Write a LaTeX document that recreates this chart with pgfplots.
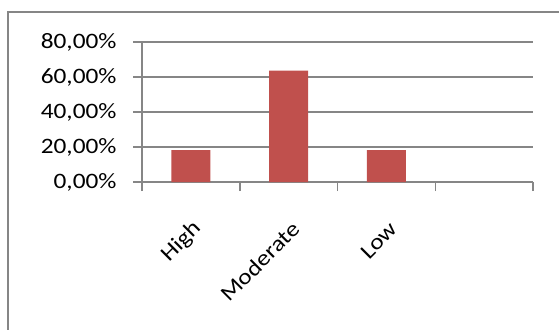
\documentclass[border=0pt]{standalone}
\usepackage{pgfplots}
\pgfplotsset{compat=1.18}
\usepackage{fontspec}
\setmainfont{Carlito}[FakeStretch=1.15]
\definecolor{gridc}{HTML}{868686}
\definecolor{barc}{HTML}{C0504D}
\begin{document}
\begin{tikzpicture}[x=1pt,y=1pt]
\useasboundingbox (0,0) rectangle (559,-329);
\draw[gridc, line width=2pt] (7.5,-400) -- (7.5,-12) -- (600,-12);
\begin{axis}[
 at={(142pt,-182pt)}, anchor=south west,
 scale only axis, width=391pt, height=140pt,
 xmin=-0.5, xmax=3.5, ymin=0, ymax=80,
 axis x line*=bottom, axis y line*=left,
 axis line style={gridc, line width=1.5pt, -},
 tick style={gridc, line width=1.5pt},
 tick align=outside, major tick length=9pt,
 ymajorgrids, grid style={gridc, line width=1.5pt},
 ytick={0,20,40,60,80},
 yticklabels={{0,00\%},{20,00\%},{40,00\%},{60,00\%},{80,00\%}},
 yticklabel style={anchor=east, xshift=-13pt},
 xtick={-0.5,0.5,1.5,2.5,3.5}, xticklabels={},
 extra x ticks={0,1,2},
 extra x tick labels={High,Moderate,Low},
 extra x tick style={major tick length=0pt, grid=none,
   xticklabel style={rotate=45, anchor=east, xshift=-22pt, yshift=-36pt}},
 tick label style={font=\fontsize{22}{26}\selectfont, text=black},
 ybar, bar width=39pt,
 clip=false,
]
\addplot[fill=barc, draw=none] coordinates {(0,18.18) (1,63.64) (2,18.18)};
\end{axis}
\end{tikzpicture}
\end{document}
